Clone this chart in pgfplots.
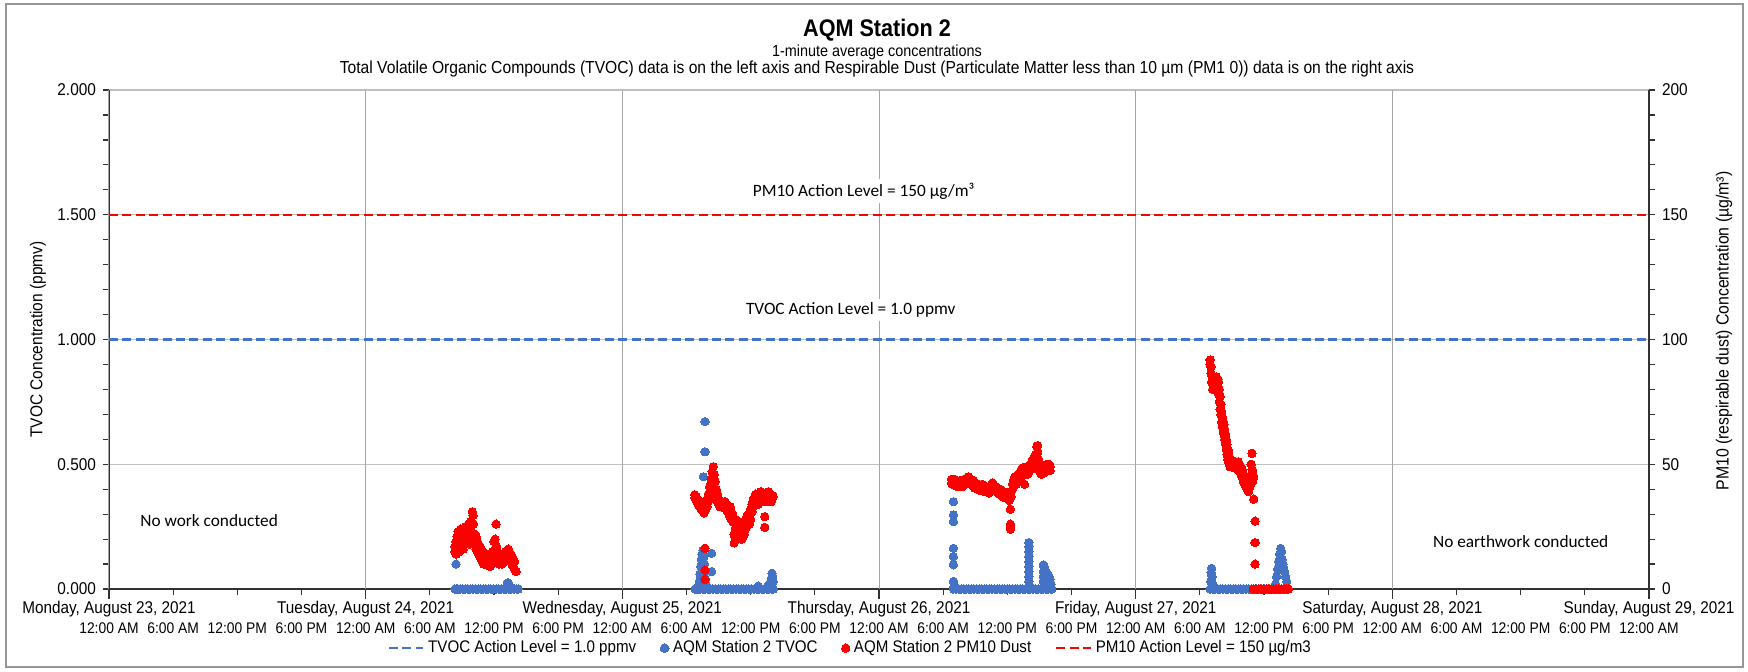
\documentclass[border=0pt]{standalone}
\usepackage{fontspec}
\setmainfont{Liberation Sans}[FakeStretch=0.9]
\newfontfamily\calibri{Carlito}
\usepackage{pgfplots}
\usepackage{pgfplotstable}
\pgfplotsset{compat=1.18}
\definecolor{tvoc}{RGB}{68,114,196}
\definecolor{pmred}{RGB}{255,0,0}
\definecolor{vgrid}{RGB}{165,165,165}
\definecolor{hgrid}{RGB}{191,191,191}
\definecolor{axc}{RGB}{50,50,50}
\definecolor{framec}{RGB}{150,150,150}
\newcommand\fs[1]{\fontsize{#1}{#1}\selectfont}

% TVOC (ppmv) vs days since Mon Aug 23 2021 00:00
\pgfplotstableread{
d v
1.348 0
1.352 0.10
1.352 0
1.358 0
1.368 0
1.378 0
1.388 0
1.398 0
1.408 0
1.418 0
1.428 0
1.438 0
1.448 0
1.458 0
1.468 0
1.478 0
1.488 0
1.498 0
1.508 0
1.518 0
1.528 0
1.538 0
1.548 0
1.552 0.024
1.556 0.024
1.560 0.015
1.558 0
1.568 0
1.578 0
1.588 0
1.594 0
2.283 0
2.290 0
2.298 0.01
2.300 0.03
2.302 0.06
2.305 0.09
2.308 0.12
2.311 0.14
2.314 0.155
2.316 0.45
2.318 0.13
2.320 0.10
2.322 0.671
2.322 0.55
2.322 0.07
2.324 0.04
2.326 0.02
2.348 0.143
2.348 0.07
2.293 0
2.303 0
2.313 0
2.323 0
2.333 0
2.343 0
2.353 0
2.363 0
2.373 0
2.383 0
2.393 0
2.403 0
2.413 0
2.423 0
2.433 0
2.443 0
2.453 0
2.463 0
2.473 0
2.483 0
2.493 0
2.503 0
2.513 0
2.523 0
2.533 0
2.543 0
2.553 0
2.563 0
2.573 0
2.583 0
2.588 0
2.529 0.012
2.565 0.01
2.572 0.02
2.578 0.03
2.581 0.045
2.583 0.063
2.586 0.05
2.588 0.03
3.290 0.35
3.290 0.297
3.290 0.27
3.290 0.163
3.290 0.13
3.290 0.097
3.290 0.03
3.292 0.01
3.290 0
3.300 0
3.310 0
3.320 0
3.330 0
3.340 0
3.350 0
3.360 0
3.370 0
3.380 0
3.390 0
3.400 0
3.410 0
3.420 0
3.430 0
3.440 0
3.450 0
3.460 0
3.470 0
3.480 0
3.490 0
3.500 0
3.510 0
3.520 0
3.530 0
3.540 0
3.550 0
3.560 0
3.570 0
3.580 0
3.590 0
3.600 0
3.610 0
3.620 0
3.630 0
3.640 0
3.650 0
3.660 0
3.670 0
3.673 0
3.584 0.186
3.584 0.17
3.584 0.15
3.584 0.13
3.584 0.11
3.584 0.09
3.584 0.07
3.584 0.05
3.584 0.03
3.584 0.015
3.640 0.096
3.643 0.09
3.646 0.08
3.650 0.07
3.654 0.065
3.658 0.06
3.662 0.05
3.666 0.04
3.670 0.02
3.640 0.07
3.640 0.05
3.640 0.03
3.650 0.04
3.660 0.02
4.290 0
4.300 0
4.310 0
4.320 0
4.330 0
4.340 0
4.350 0
4.360 0
4.370 0
4.380 0
4.390 0
4.400 0
4.410 0
4.420 0
4.430 0
4.440 0
4.450 0
4.460 0
4.470 0
4.480 0
4.490 0
4.500 0
4.510 0
4.520 0
4.530 0
4.540 0
4.550 0
4.560 0
4.570 0
4.580 0
4.590 0
4.296 0.083
4.294 0.065
4.298 0.05
4.296 0.035
4.300 0.02
4.292 0.03
4.545 0.02
4.549 0.05
4.553 0.08
4.557 0.11
4.561 0.14
4.565 0.163
4.568 0.15
4.571 0.12
4.574 0.10
4.577 0.085
4.580 0.07
4.584 0.05
4.588 0.03
}\tvocdata

% PM10 (ug/m3) vs days
\pgfplotstableread{
d v
1.348 15
1.348 17
1.352 19
1.352 14
1.356 21
1.356 16
1.360 23
1.360 17
1.365 20
1.365 15
1.370 24
1.370 18
1.375 22
1.375 17
1.380 24
1.380 16
1.385 21
1.385 18
1.390 25
1.390 20
1.395 23
1.395 19
1.400 26
1.400 20
1.400 22
1.405 24
1.405 18
1.410 27
1.410 21
1.4155 31
1.4185 29.5
1.420 26
1.415 22
1.425 22
1.425 18
1.430 21
1.430 16
1.435 19
1.435 15
1.440 18
1.440 14
1.445 17
1.445 13
1.450 16
1.450 12
1.455 15
1.455 11
1.460 14
1.460 10
1.465 13
1.465 10
1.470 14
1.470 11
1.475 12
1.475 9.5
1.480 13
1.480 10
1.485 12
1.485 9
1.490 13
1.490 10
1.495 15
1.495 11
1.500 19
1.500 14
1.504 20
1.504 16
1.508 26
1.510 17
1.510 13
1.515 14
1.515 11
1.520 13
1.520 10
1.525 14
1.525 11
1.530 13
1.530 10
1.535 14
1.535 12
1.540 13
1.540 11
1.545 15
1.545 12
1.550 14
1.550 12
1.555 16
1.555 13
1.560 15
1.560 12
1.565 14
1.565 11
1.570 13
1.570 10
1.575 12
1.575 9
1.580 11
1.580 8
1.586 7
2.322 16.3
2.322 7.6
2.322 3.9
2.283 37.7
2.283 36.5
2.288 37
2.288 35.5
2.293 36
2.293 34.5
2.298 35.5
2.298 33.5
2.303 34.5
2.303 33
2.308 33.5
2.308 32
2.313 33
2.313 31.5
2.318 32
2.318 30.5
2.325 34
2.325 32
2.330 36
2.330 33
2.335 38
2.335 35
2.340 41
2.340 37
2.345 44
2.345 39
2.350 47
2.350 42
2.354 49
2.354 45
2.358 46
2.358 41
2.362 43
2.362 38
2.366 40
2.366 36
2.370 38
2.370 35
2.375 36
2.375 34
2.380 35
2.380 33
2.385 34.5
2.385 33
2.390 35
2.390 33
2.395 34.5
2.395 32.5
2.400 35
2.400 33
2.405 34
2.405 32
2.410 33
2.410 31
2.415 32
2.415 30
2.420 33
2.420 29
2.425 31
2.425 28
2.430 30
2.430 27
2.435 27
2.435 22
2.436 18.5
2.440 28
2.440 24
2.440 21
2.445 27
2.445 23
2.450 26
2.450 22.5
2.455 27
2.455 23
2.460 25
2.460 22
2.465 26
2.465 20
2.470 24
2.470 21
2.475 25
2.475 22
2.480 27
2.480 24
2.485 29
2.485 26
2.490 30
2.490 27
2.495 29
2.495 26
2.500 32
2.500 28
2.505 34
2.505 31
2.510 36
2.510 33
2.515 37
2.515 34
2.520 38
2.520 35
2.525 37
2.525 34
2.530 36
2.530 34
2.535 38
2.535 35
2.540 39
2.540 36
2.545 38
2.545 35
2.550 37.5
2.550 35
2.555 29
2.555 24.7
2.555 38
2.560 37
2.560 35
2.565 38
2.565 35.5
2.570 39
2.570 36
2.575 38
2.575 36
2.580 37
2.580 35
2.585 37.5
2.588 37
3.283 44
3.283 42.5
3.288 43.5
3.288 42
3.293 44
3.293 42.5
3.298 43
3.298 41.5
3.303 43.5
3.303 42
3.308 42.5
3.308 41
3.313 43
3.313 41.5
3.318 43.5
3.318 42
3.323 42.5
3.323 41
3.328 43
3.328 41.5
3.333 44
3.333 42
3.338 43.5
3.338 42
3.343 44.5
3.343 42.5
3.348 45
3.348 43
3.353 44.5
3.353 42.5
3.358 44
3.358 42
3.363 43
3.363 41.5
3.368 43.5
3.368 41.5
3.373 42.5
3.373 40.5
3.378 42
3.378 40.5
3.383 41.5
3.383 40
3.388 42
3.388 40
3.393 41
3.393 39.5
3.398 41.5
3.398 40
3.403 42
3.403 40.5
3.408 41
3.408 39.5
3.413 40.5
3.413 39
3.418 41
3.418 39
3.423 40.5
3.423 39
3.428 40
3.428 38.5
3.433 41
3.433 39
3.438 42
3.438 40
3.443 42.5
3.443 40.5
3.448 41.5
3.448 40
3.453 41
3.453 39.5
3.458 40.5
3.458 39
3.463 40
3.463 38.5
3.468 39.5
3.468 38
3.473 40
3.473 38
3.478 39
3.478 37.5
3.483 38.5
3.483 37
3.488 39
3.488 37
3.493 38.5
3.493 36.5
3.498 38
3.498 36.5
3.503 37.5
3.503 36
3.508 37
3.508 35.5
3.512 32
3.512 26
3.512 25
3.512 24
3.515 39
3.515 37
3.520 42
3.520 40
3.525 44
3.525 42
3.530 45
3.530 43
3.535 44
3.535 42
3.540 45.5
3.540 43.5
3.545 46
3.545 44
3.550 47
3.550 44.5
3.555 48
3.555 45
3.560 48.5
3.560 46
3.567 42
3.570 48
3.570 46
3.575 49
3.575 47
3.580 48
3.580 46
3.585 49
3.585 47
3.590 50
3.590 48
3.595 51
3.595 48
3.600 52
3.600 49
3.605 53
3.605 50
3.610 54
3.610 51
3.615 57
3.615 54
3.618 57.5
3.618 55
3.622 52
3.622 49
3.627 49
3.627 47
3.632 48
3.632 46
3.637 49
3.637 47
3.642 48
3.642 46.5
3.647 49
3.647 47
3.652 50
3.652 48
3.657 49.5
3.657 48
3.662 50
3.662 48.5
3.667 49
3.667 47.5
4.290 91.8
4.290 90
4.293 89
4.293 86.5
4.296 86
4.296 83
4.300 84
4.300 80
4.305 85
4.305 81
4.310 84
4.310 81
4.315 85
4.315 82
4.320 84
4.320 80
4.323 83
4.323 78
4.326 80
4.326 75
4.329 77
4.329 72
4.332 74
4.332 70
4.335 71
4.335 67
4.338 69
4.338 65
4.341 67
4.341 63
4.344 66
4.344 62
4.347 64
4.347 60
4.350 62
4.350 58
4.353 60
4.353 56
4.356 58
4.356 54
4.359 56
4.359 52
4.362 55
4.362 51
4.365 53
4.365 50
4.368 52
4.368 49
4.372 51
4.372 49
4.376 51.5
4.376 49.5
4.380 51
4.380 49
4.385 50.5
4.385 48.5
4.390 51
4.390 49
4.395 50
4.395 48
4.400 51
4.400 49
4.405 50
4.405 47
4.410 49
4.410 46
4.415 48
4.415 45
4.420 46
4.420 43
4.425 45
4.425 42
4.430 44
4.430 41
4.435 43
4.435 40
4.440 42
4.440 39
4.445 45
4.445 41
4.450 50
4.450 44
4.453 54.4
4.453 48
4.456 47
4.456 43
4.460 45
4.460 36
4.465 27.2
4.465 18.6
4.465 10
4.458 0
4.468 0
4.478 0
4.488 0
4.498 0
4.508 0
4.518 0
4.528 0
4.538 0
4.548 0
4.558 0
4.568 0
4.578 0
4.588 0
4.595 0
}\pmdata

\begin{document}
\begin{tikzpicture}
\path[use as bounding box] (0,0) rectangle (874pt,335.5pt);
\draw[framec, line width=0.6pt] (3pt,2pt) rectangle (871.5pt,333.5pt);
\node[font=\bfseries\fs{12}] at (438.5pt,320.5pt) {AQM Station 2};
\node[font=\fs{8}] at (438.5pt,309.5pt) {1-minute average concentrations};
\node[font=\fs{8.7}] at (438.5pt,301pt) {Total Volatile Organic Compounds (TVOC) data is on the left axis and Respirable Dust (Particulate Matter less than 10 µm (PM1 0)) data is on the right axis};
\node[font=\fs{8.6}, rotate=90] at (19pt,165.75pt) {TVOC Concentration (ppmv)};
\node[font=\fs{8.8}, rotate=90] at (862pt,170pt) {PM10 (respirable dust) Concentration (µg/m³)};

\begin{axis}[
  at={(54.5pt,41pt)}, anchor=south west,
  scale only axis, width=770pt, height=249.5pt,
  xmin=0, xmax=6, ymin=0, ymax=2,
  clip=false,
  axis x line*=bottom, axis y line*=left,
  axis line style={axc, line width=0.6pt},
  tick style={axc, line width=0.6pt},
  tick align=outside,
  major tick length=3pt, minor tick length=3pt,
  xtick={0,0.25,...,6},
  xticklabels={12:00 AM,6:00 AM,12:00 PM,6:00 PM,12:00 AM,6:00 AM,12:00 PM,6:00 PM,12:00 AM,6:00 AM,12:00 PM,6:00 PM,12:00 AM,6:00 AM,12:00 PM,6:00 PM,12:00 AM,6:00 AM,12:00 PM,6:00 PM,12:00 AM,6:00 AM,12:00 PM,6:00 PM,12:00 AM},
  xticklabel style={font=\fs{7.7}, anchor=center, yshift=-16.8pt},
  extra x ticks={0,1,2,3,4,5,6},
  extra x tick labels={{Monday, August 23, 2021},{Tuesday, August 24, 2021},{Wednesday, August 25, 2021},{Thursday, August 26, 2021},{Friday, August 27, 2021},{Saturday, August 28, 2021},{Sunday, August 29, 2021}},
  extra x tick style={grid=major, major grid style={vgrid, line width=0.5pt}, major tick length=5pt, xticklabel style={font=\fs{8.5}, yshift=12pt}},
  ytick={0,0.5,1,1.5,2},
  minor y tick num=4,
  yticklabel style={font=\fs{8.55}, /pgf/number format/.cd, fixed, fixed zerofill, precision=3, assume math mode=true},
  ymajorgrids, major grid style={hgrid, line width=0.6pt},
]
\addplot[tvoc, line width=1.2pt, dash pattern=on 4.5pt off 2.2pt] coordinates {(0,1) (6,1)};
\addplot[tvoc, only marks, mark=*, mark size=2.1pt, mark options={draw=tvoc, fill=tvoc, line width=0pt}] table {\tvocdata};
\node[font=\calibri\fs{8.65}, fill=white, inner sep=1.5pt] at (axis cs:0.39,0.2725) {No work conducted};
\node[font=\calibri\fs{8.65}, fill=white, inner sep=1.5pt] at (axis cs:5.50,0.192) {No earthwork conducted};
\node[font=\calibri\fs{8.65}, fill=white, inner sep=2pt] at (axis cs:2.94,1.595) {PM10 Action Level = 150 µg/m³};
\node[font=\calibri\fs{8.65}, fill=white, inner sep=2pt] at (axis cs:2.89,1.118) {TVOC Action Level = 1.0 ppmv};
\end{axis}

\begin{axis}[
  at={(54.5pt,41pt)}, anchor=south west,
  scale only axis, width=770pt, height=249.5pt,
  xmin=0, xmax=6, ymin=0, ymax=200,
  clip=false,
  hide x axis,
  axis y line*=right,
  axis line style={axc, line width=0.6pt},
  tick style={axc, line width=0.6pt},
  tick align=outside,
  major tick length=3pt, minor tick length=3pt,
  ytick={0,50,...,200},
  minor y tick num=4,
  yticklabel style={font=\fs{8.55}, /pgf/number format/assume math mode=true},
  legend columns=4,
  legend style={at={(0.482,-0.1185)}, anchor=center, draw=none, fill=none, font=\fs{8.4},
    /tikz/every even column/.append style={column sep=10pt}},
]
\addlegendimage{tvoc, line width=1.2pt, dash pattern=on 4.5pt off 2.2pt}
\addlegendentry{TVOC Action Level = 1.0 ppmv}
\addlegendimage{tvoc, only marks, mark=*, mark size=2.2pt, mark options={draw=tvoc, fill=tvoc, line width=0pt}}
\addlegendentry{AQM Station 2 TVOC}
\addplot[pmred, only marks, mark=*, mark size=2.1pt, mark options={draw=pmred, fill=pmred, line width=0pt}] table {\pmdata};
\addlegendentry{AQM Station 2 PM10 Dust}
\addplot[pmred, line width=1.2pt, dash pattern=on 4.5pt off 2.2pt] coordinates {(0,150) (6,150)};
\addlegendentry{PM10 Action Level = 150 µg/m3}
\end{axis}
\end{tikzpicture}
\end{document}
